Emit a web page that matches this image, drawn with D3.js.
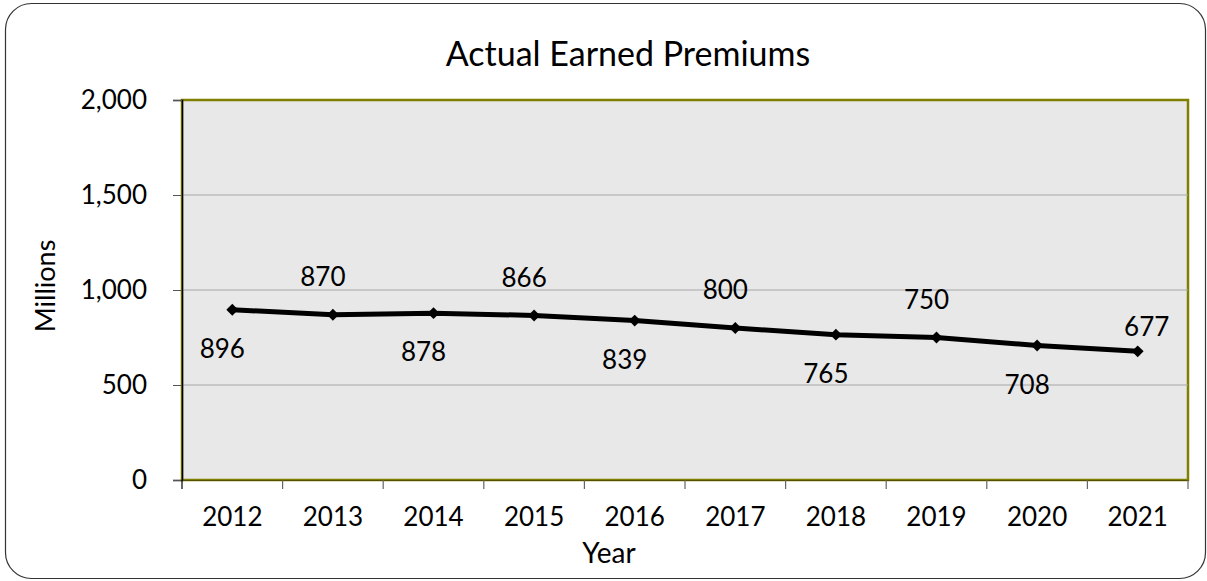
<!DOCTYPE html>
<html>
<head>
<meta charset="utf-8">
<script src="https://cdn.jsdelivr.net/npm/d3@7"></script>
<style>
  body { margin: 0; background: #fff; }
  text { font-family: Lato, "Open Sans", sans-serif; fill: #000; }
</style>
</head>
<body>
<script>
var years = ["2012", "2013", "2014", "2015", "2016", "2017", "2018", "2019", "2020", "2021"];
var premiums = [896, 870, 878, 866, 839, 800, 765, 750, 708, 677];
var labelSide = ["below", "above", "below", "above", "below", "above", "below", "above", "below", "right"];
var yTicks = [0, 500, 1000, 1500, 2000];

var svgWidth = 1207, svgHeight = 581;
var margin = { top: 100, right: 19, bottom: 101, left: 182 },
    width = svgWidth - margin.left - margin.right,
    height = svgHeight - margin.top - margin.bottom;

var svg = d3.select("body").append("svg").attr("width", svgWidth).attr("height", svgHeight);

// outer frame
svg.append("rect")
    .attr("x", 5.5).attr("y", 3.5)
    .attr("width", 1200).attr("height", 575)
    .attr("rx", 26).attr("ry", 26)
    .attr("fill", "#fff").attr("stroke", "#333").attr("stroke-width", 1.2);

var x = d3.scaleBand().domain(years).range([0, width]);
var y = d3.scaleLinear().domain([0, 2000]).range([height, 0]);

var g = svg.append("g").attr("transform", `translate(${margin.left},${margin.top})`);

g.append("rect")
    .attr("width", width).attr("height", height)
    .attr("fill", "#e8e8e8").attr("stroke", "#808000").attr("stroke-width", 2.5);

// gridlines
g.selectAll(".grid").data(yTicks.filter(d => d > 0 && d < 2000))
    .enter().append("line")
    .attr("x1", 0).attr("x2", width)
    .attr("y1", d => y(d)).attr("y2", d => y(d))
    .attr("stroke", "#a6a6a6").attr("stroke-width", 1);

// y axis
var yAxis = g.append("g")
    .call(d3.axisLeft(y).tickValues(yTicks).tickFormat(d3.format(",")).tickSize(9).tickPadding(26));
yAxis.select(".domain").attr("stroke", "#000").attr("stroke-width", 1.5);
yAxis.selectAll(".tick line").attr("stroke", "#555");
yAxis.selectAll("text").style("font-size", "26px");

// x axis with ticks at category edges
var xAxis = g.append("g").attr("transform", `translate(0,${height})`)
    .call(d3.axisBottom(x).tickSize(0).tickPadding(28));
xAxis.select(".domain").attr("stroke", "#555000").attr("stroke-width", 1.2);
xAxis.selectAll("text").style("font-size", "26px");
var edges = years.map(d => x(d)).concat([width]);
xAxis.selectAll(".edge").data(edges).enter().append("line")
    .attr("x1", d => d).attr("x2", d => d)
    .attr("y1", 0).attr("y2", 9)
    .attr("stroke", (d, i) => i == 0 ? "#000" : "#666").attr("stroke-width", 1.2);

var cx = d => x(d) + x.bandwidth() / 2;

// line
var line = d3.line().x((d, i) => cx(years[i])).y(d => y(d));
g.append("path").datum(premiums)
    .attr("d", line)
    .attr("fill", "none").attr("stroke", "#000").attr("stroke-width", 5)
    .attr("stroke-linejoin", "round");

// markers
g.selectAll(".pt").data(premiums).enter().append("path")
    .attr("d", d3.symbol().type(d3.symbolDiamond2).size(90))
    .attr("transform", (d, i) => `translate(${cx(years[i])},${y(d)})`)
    .attr("fill", "#000");

// data labels
g.selectAll(".lbl").data(premiums).enter().append("text")
    .attr("x", (d, i) => cx(years[i]) + (labelSide[i] == "right" ? 9 : -10))
    .attr("y", (d, i) => y(d) + (labelSide[i] == "below" ? 39 : labelSide[i] == "above" ? -38 : -24))
    .attr("dy", "0.35em")
    .attr("text-anchor", "middle")
    .style("font-size", "26px")
    .text(d => d);

// titles
svg.append("text").attr("x", 628).attr("y", 54).attr("dy", "0.35em")
    .attr("text-anchor", "middle").style("font-size", "34px").text("Actual Earned Premiums");
svg.append("text").attr("x", 609).attr("y", 553).attr("dy", "0.35em")
    .attr("text-anchor", "middle").style("font-size", "28px").text("Year");
svg.append("text").attr("transform", "translate(46,286) rotate(-90)").attr("dy", "0.35em")
    .attr("text-anchor", "middle").style("font-size", "27px").text("Millions");
</script>
</body>
</html>
